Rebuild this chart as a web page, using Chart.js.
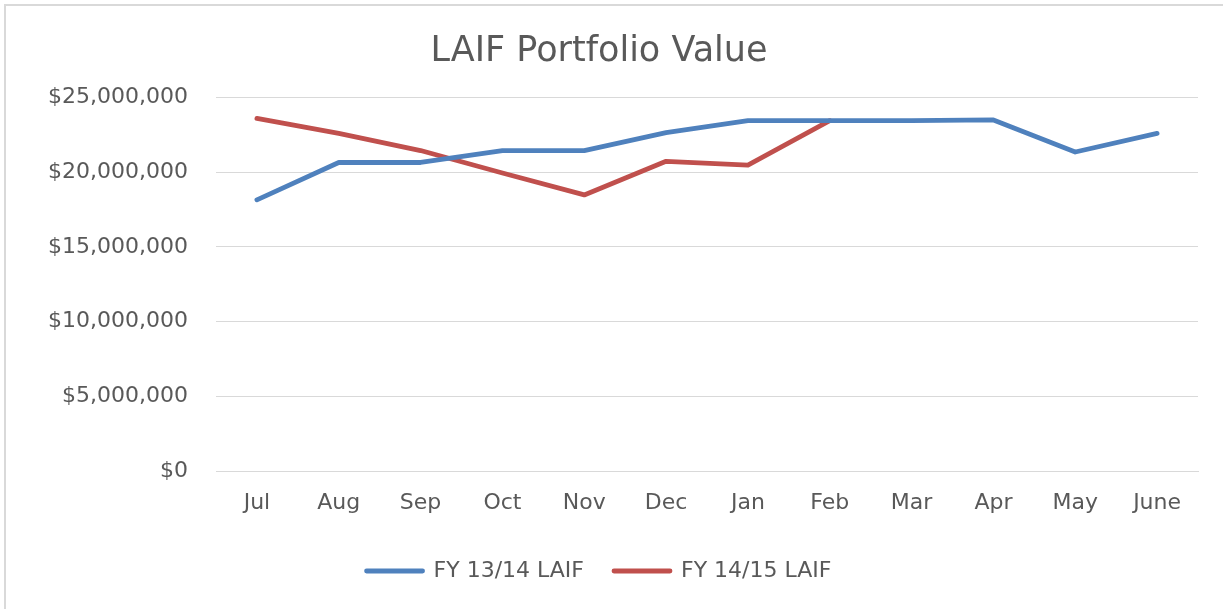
<!DOCTYPE html>
<html>
<head>
<meta charset="utf-8">
<script src="https://cdn.jsdelivr.net/npm/chart.js@4/dist/chart.umd.min.js"></script>
<style>
  html, body { margin: 0; padding: 0; background: #ffffff; overflow: hidden; }
  #frame { position: absolute; left: 4px; top: 4px; width: 1300px; height: 700px; border: 2px solid #d9d9d9; box-sizing: border-box; }
  #wrap { position: absolute; left: 0; top: 0; width: 1223px; height: 609px; }
</style>
</head>
<body>
<div id="frame"></div>
<div id="wrap"><canvas id="c" width="1223" height="609"></canvas></div>
<script>
const chartTitle = "LAIF Portfolio Value";
const months = ["Jul", "Aug", "Sep", "Oct", "Nov", "Dec", "Jan", "Feb", "Mar", "Apr", "May", "June"];
const seriesNames = ["FY 13/14 LAIF", "FY 14/15 LAIF"];
const fy1314 = [18150000, 20650000, 20650000, 21450000, 21450000, 22650000, 23450000, 23450000, 23450000, 23500000, 21350000, 22600000];
const fy1415 = [23600000, 22600000, 21450000, 19950000, 18480000, 20730000, 20480000, 23450000, null, null, null, null];
const yTicks = [0, 5000000, 10000000, 15000000, 20000000, 25000000];

const textColor = "#595959";
const fontFamily = "'DejaVu Sans', sans-serif";

const fmt = v => "$" + Math.round(v).toString().replace(/\B(?=(\d{3})+(?!\d))/g, ",");

new Chart(document.getElementById("c"), {
  type: "line",
  data: {
    labels: months,
    datasets: [
      { label: seriesNames[0], data: fy1314, borderColor: "#4f81bd", backgroundColor: "#4f81bd",
        borderWidth: 4.8, pointRadius: 0, pointHoverRadius: 0, tension: 0, borderCapStyle: "round", borderJoinStyle: "round" },
      { label: seriesNames[1], data: fy1415, borderColor: "#c0504d", backgroundColor: "#c0504d",
        borderWidth: 4.8, pointRadius: 0, pointHoverRadius: 0, tension: 0, borderCapStyle: "round", borderJoinStyle: "round", spanGaps: false }
    ]
  },
  options: {
    responsive: false,
    animation: false,
    layout: { padding: { left: 0, right: 25, top: 0, bottom: 17 } },
    plugins: {
      title: {
        display: true, text: chartTitle, color: textColor,
        font: { family: fontFamily, size: 35, weight: "normal" },
        padding: { top: 31, bottom: 24.5 }
      },
      legend: {
        display: true, position: "bottom",
        labels: {
          color: textColor, font: { family: fontFamily, size: 22 },
          boxWidth: 56, boxHeight: 0, padding: 30
        }
      },
      tooltip: { enabled: false }
    },
    scales: {
      x: {
        offset: true,
        grid: { display: false, drawTicks: false },
        border: { display: true, color: "#d9d9d9", width: 1 },
        ticks: { color: textColor, font: { family: fontFamily, size: 22 }, padding: 18.8, maxRotation: 0, autoSkip: false },
        afterFit: s => { s.height = 59; }
      },
      y: {
        min: 0, max: 25000000,
        afterBuildTicks: s => { s.ticks = yTicks.map(v => ({ value: v })); },
        grid: { color: "#d9d9d9", lineWidth: 1, drawTicks: false },
        border: { display: false },
        ticks: { color: textColor, font: { family: fontFamily, size: 22 }, padding: 28, callback: v => fmt(v) },
        afterFit: s => { s.width = 216; }
      }
    }
  }
});
</script>
</body>
</html>
